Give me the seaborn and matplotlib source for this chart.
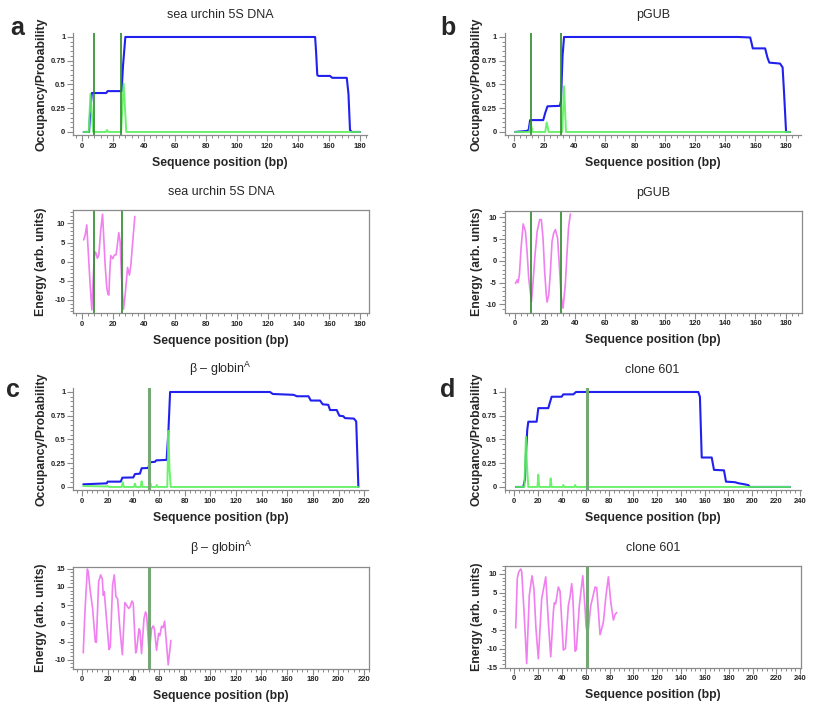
import matplotlib
matplotlib.use('Agg')
import matplotlib.pyplot as plt
import seaborn as sns
from matplotlib.ticker import MultipleLocator, FixedLocator, FixedFormatter

# ---- data ----
# panel a : sea urchin 5S DNA
a_occ_x = [1, 4.5, 5.2, 6.3, 15.6, 16.5, 25.6, 26.5, 28, 150.9, 151.5, 152.3, 153, 160.5, 162, 171.4, 172.5, 173.5, 174.7, 180]
a_occ_y = [0, 0, 0.2, 0.41, 0.41, 0.43, 0.43, 0.7, 1.0, 1.0, 0.85, 0.6, 0.59, 0.59, 0.57, 0.57, 0.4, 0.02, 0, 0]
a_prob_x = [1, 4.3, 5.4, 6.3, 7.1, 15.5, 16.1, 16.9, 25.3, 26.2, 26.9, 27.6, 28.6, 180]
a_prob_y = [0, 0, 0.4, 0.2, 0, 0, 0.02, 0, 0, 0.3, 0.51, 0.3, 0, 0]
a_eng_x = [1, 2, 3, 4.1, 5.2, 6.3, 6.9, 7.6, 8.2, 9, 9.9, 10.8, 12, 13.2, 13.8, 14.9, 16, 16.8, 17.3, 17.9, 18.5,
           19.8, 20.8, 22, 23, 23.7, 24.6, 25.5, 26.8, 28, 29.4, 30.6, 31.5, 32.5, 34.1]
a_eng_y = [5.7, 7.0, 9.6, 1.7, -6.1, -12.6, -7, -0.9, 2.6, 2.2, 0.9, 1.7, 8, 12.4, 7.8, -0.9, -7, -8.6, -8.7, -2.6, 1.6,
           0.8, 1.7, 1.8, 5, 7.6, 5.2, -4, -12.4, -8, -1.5, -3.5, -1, 4, 11.8]
a_sites = [8, 25.5]

# panel b : pGUB
b_occ_x = [0.5, 8, 9.5, 10.5, 19.2, 20.5, 22, 30.3, 31, 32, 33, 148.6, 156.5, 157.5, 158.2, 166.4, 168, 169.2,
           176.3, 178, 179, 180.3, 183]
b_occ_y = [0, 0.01, 0.02, 0.125, 0.125, 0.2, 0.27, 0.275, 0.33, 0.8, 1.0, 1.0, 0.995, 0.93, 0.88, 0.88, 0.78, 0.73,
           0.72, 0.68, 0.4, 0, 0]
b_prob_x = [0.5, 10, 10.9, 12, 20.5, 21.5, 22.8, 31.8, 33, 34.3, 183]
b_prob_y = [0, 0, 0.1, 0, 0, 0.1, 0, 0, 0.48, 0, 0]
b_eng_x = [0.5, 1.6, 2.2, 3.1, 4.2, 5.6, 7.1, 8.2, 9.3, 11.1, 12.2, 13.3, 14.9, 16.6, 17.7, 18.8, 19.9, 21, 21.5,
           22.6, 23.7, 24.8, 25.9, 27, 28.5, 29.9, 30.8, 32.1, 33.6, 34.8, 35.8, 37]
b_eng_y = [-5.2, -4.4, -5, -3.2, 2.9, 8.5, 6.8, 2.1, -4.0, -9.4, -4.8, 0.6, 6.8, 9.5, 9.5, 5.2, -2.5, -7.9, -9.5,
           -7.9, -2.5, 4.5, 6.4, 7.2, 5.2, -2.5, -7.9, -10.9, -5.5, 2.1, 7.8, 10.8]
b_sites = [11, 31]

# panel c : beta-globin A
c_occ_x = [1, 19.3, 20, 30.2, 31.5, 40, 41.3, 45.2, 46.5, 51.7, 53, 57, 57.8, 66, 67.4, 68.7, 146.6, 148.8, 165,
           167.6, 176.6, 178.4, 185.6, 187.7, 192, 193.4, 198.6, 200.7, 203.8, 205, 212, 213.8, 215.5]
c_occ_y = [0.028, 0.038, 0.056, 0.056, 0.098, 0.1, 0.136, 0.14, 0.197, 0.2, 0.26, 0.265, 0.28, 0.285, 0.59, 1.0,
           1.0, 0.979, 0.97, 0.955, 0.955, 0.91, 0.91, 0.87, 0.865, 0.81, 0.81, 0.75, 0.745, 0.725, 0.72, 0.69, 0]
c_prob_x = [1, 19, 20, 21, 31, 31.8, 32.6, 40.5, 41.3, 42, 45.8, 46.5, 47.3, 52.5, 53.3, 54, 57.6, 58.3, 59,
            66.5, 67.4, 68.2, 69.2, 215.5]
c_prob_y = [0.01, 0.005, 0.01, 0, 0, 0.05, 0, 0, 0.035, 0, 0, 0.06, 0, 0, 0.04, 0, 0, 0.02, 0,
            0, 0.59, 0.2, 0, 0]
c_eng_x = [1, 2.3, 4.2, 5, 6.2, 8.3, 10.4, 11.2, 13, 14.6, 15.9, 16.6, 17.4, 18.7, 21.1, 22.1, 23.9, 25.2, 26.5,
           27.8, 29.6, 31.5, 33.5, 34.8, 36.4, 37.4, 39, 40, 41.9, 42.6, 44.5, 45.3, 46.5, 48.4, 49.6, 50.4, 52.5,
           54.3, 55.6, 56.5, 58.2, 59.8, 60.8, 62.1, 63.3, 64.5, 67.3, 69.4]
c_eng_y = [-8.1, 3.1, 14.9, 14, 9.6, 4.1, -5.1, -5.2, 11.4, 13.3, 12.1, 7.7, 8.7, 3.1, -7.2, -6.5, 10.5, 13.3, 7.3,
           6.8, -1.5, -8.6, 5.7, 5.0, 4.1, 4.4, 6.1, 5.5, -8.1, -7.4, -1.5, -2, -8.3, 1.3, 3.1, 2.4, -8.3,
           -1.5, -0.7, -1.5, -7.4, -2.8, -3.4, -0.8, -1.2, 0.6, -11.4, -4.7]
c_sites = [52.3]

# panel d : clone 601
d_occ_x = [1.4, 7.6, 9, 9.8, 10.9, 11.8, 18.8, 20.2, 28.6, 29.5, 31.4, 39.8, 41.2, 49.6, 51.9, 154.6, 156, 157.5,
           165.9, 167.8, 176.2, 177.9, 185.5, 188, 192.6, 196.6, 198, 231.7]
d_occ_y = [0, 0, 0.08, 0.34, 0.6, 0.687, 0.687, 0.83, 0.83, 0.87, 0.95, 0.95, 0.975, 0.975, 1.0, 1.0, 0.95, 0.31,
           0.31, 0.18, 0.175, 0.056, 0.05, 0.04, 0.03, 0.02, 0, 0]
d_prob_x = [1.4, 8.5, 9.8, 10.6, 11.8, 19.5, 20.2, 21, 30, 30.6, 31.3, 40.6, 41.2, 42, 50.5, 51.1, 52, 231.7]
d_prob_y = [0, 0, 0.53, 0.25, 0, 0, 0.13, 0, 0, 0.09, 0, 0, 0.02, 0, 0, 0.02, 0, 0]
d_eng_x = [1.2, 2.5, 3.7, 5.4, 6.2, 8.2, 10.4, 12.6, 14.9, 16.5, 18.2, 20.2, 23, 26.4, 28.6, 30.6, 32.8, 33.6,
           34.7, 37, 38.4, 41.2, 42.9, 45.4, 46.8, 48.2, 49.1, 51, 52.1, 54.6, 57.5, 59.4, 60.2, 61.6, 64.2, 65.3,
           67.8, 69.2, 72, 73.4, 74.8, 77, 79, 81, 83.2, 84.6, 86]
d_eng_y = [-4.4, 8.8, 10.5, 11.3, 10.7, -0.1, -13.9, 4.3, 9.5, 6, -4.6, -12.6, 3.4, 9.2, -2.8, -12.1, -0.1, 2.3,
           2.0, 6.5, 5.4, -10.3, -9.9, 1.6, 3.9, 7.4, 4.3, -10.6, -10.2, 1.6, 9.5, 0.8, -3.7, -6.5, 1.6, 3.0,
           6.5, 6.3, -6.2, -4.6, -2.8, 4.3, 9.2, 2.5, -2.3, -0.8, -0.3]
d_sites = [61]

titles = ['sea urchin 5S DNA', 'pGUB', 'β – globin$^{\\mathrm{A}}$', 'clone 601']
panel_letters = ['a', 'b', 'c', 'd']

# ---- style ----
sns.set_style('ticks')
plt.rcParams['font.family'] = ['Liberation Sans', 'DejaVu Sans']
plt.rcParams['mathtext.fontset'] = 'custom'
plt.rcParams['mathtext.rm'] = 'Liberation Sans'
plt.rcParams['axes.unicode_minus'] = False

BLUE = '#2121ee'
GREEN = '#5cf05c'
PINK = '#f07ff0'
GRAY = '#8a8a8a'

W, H = 823, 720
fig = plt.figure(figsize=(W / 100, H / 100), dpi=100)


def frame(left, top, w, h):
    return [left / W, 1 - (top + h) / H, w / W, h / H]


def style_axes(ax, xlim, ylim, box):
    ax.set_xlim(*xlim)
    ax.set_ylim(*ylim)
    for side in ['left', 'bottom', 'top', 'right']:
        ax.spines[side].set_color(GRAY)
        ax.spines[side].set_linewidth(0.9)
    if not box:
        ax.spines['top'].set_visible(False)
        ax.spines['right'].set_visible(False)
    ax.tick_params(which='major', direction='out', length=4, width=0.8, color=GRAY,
                   labelsize=5.5, pad=1.5)
    ax.tick_params(which='minor', direction='out', length=2.2, width=0.7, color=GRAY)
    ax.xaxis.set_major_locator(MultipleLocator(20))
    ax.xaxis.set_minor_locator(MultipleLocator(4))
    ax.set_xlabel('Sequence position (bp)', fontsize=8.8, fontweight='bold', va='center')
    ax.xaxis.set_label_coords(0.5, -0.27)


occ_frames = [frame(73, 33, 294, 102), frame(504.5, 33, 296.5, 102),
              frame(73, 388, 295, 102), frame(504.5, 388, 296, 102)]
eng_frames = [frame(73, 210, 296, 103), frame(504.5, 210.5, 297, 102),
              frame(73, 566.5, 296, 102), frame(505, 566, 296, 101.7)]
occ_xlims = [(-5.9, 184.5), (-6.5, 190.2), (-7, 223), (-8.2, 240.5)]
eng_xlims = [(-5.9, 185.6), (-6.8, 190.6), (-7, 224), (-7.8, 240.7)]
eng_ylims = [(-13.4, 13.5), (-11.9, 11.6), (-12.4, 15.6), (-15, 12.1)]
ylab_x = [-0.107, -0.094, -0.107, -0.094]
letter_pos = [(17, 28), (448, 28), (13, 390), (448, 390)]
site_style = [dict(color='#2a8a2a', lw=1.2), dict(color='#2a8a2a', lw=1.2),
              dict(color='#74a874', lw=2.2), dict(color='#74a874', lw=2.2)]

occ_data = [(a_occ_x, a_occ_y, a_prob_x, a_prob_y), (b_occ_x, b_occ_y, b_prob_x, b_prob_y),
            (c_occ_x, c_occ_y, c_prob_x, c_prob_y), (d_occ_x, d_occ_y, d_prob_x, d_prob_y)]
eng_data = [(a_eng_x, a_eng_y), (b_eng_x, b_eng_y), (c_eng_x, c_eng_y), (d_eng_x, d_eng_y)]
sites = [a_sites, b_sites, c_sites, d_sites]

for i in range(4):
    # occupancy / probability
    ax = fig.add_axes(occ_frames[i])
    ox, oy, px, py = occ_data[i]
    sns.lineplot(x=ox, y=oy, ax=ax, color=BLUE, lw=1.5, estimator=None, sort=False)
    sns.lineplot(x=px, y=py, ax=ax, color=GREEN, lw=1.4, alpha=0.9, estimator=None, sort=False)
    for s in sites[i]:
        ax.axvline(s, **site_style[i])
    style_axes(ax, occ_xlims[i], (-0.032, 1.042), box=False)
    ax.yaxis.set_major_locator(FixedLocator([0, 0.25, 0.5, 0.75, 1]))
    ax.yaxis.set_major_formatter(FixedFormatter(['0', '0.25', '0.5', '0.75', '1']))
    ax.yaxis.set_minor_locator(MultipleLocator(0.05))
    ax.set_ylabel('Occupancy/Probability', fontsize=8.8, fontweight='bold', va='center')
    ax.yaxis.set_label_coords(ylab_x[i], 0.5)
    ax.set_title(titles[i], fontsize=9, pad=10.5)
    for lab in ax.get_xticklabels() + ax.get_yticklabels():
        lab.set_fontweight('bold')

    # energy
    ax = fig.add_axes(eng_frames[i])
    ex, ey = eng_data[i]
    sns.lineplot(x=ex, y=ey, ax=ax, color=PINK, lw=1.2, estimator=None, sort=False)
    for s in sites[i]:
        ax.axvline(s, **site_style[i])
    style_axes(ax, eng_xlims[i], eng_ylims[i], box=True)
    ax.yaxis.set_major_locator(MultipleLocator(5))
    ax.yaxis.set_minor_locator(MultipleLocator(1))
    ax.set_ylabel('Energy (arb. units)', fontsize=8.8, fontweight='bold', va='center')
    ax.yaxis.set_label_coords(ylab_x[i], 0.5)
    ax.set_title(titles[i], fontsize=9, pad=10.5)
    for lab in ax.get_xticklabels() + ax.get_yticklabels():
        lab.set_fontweight('bold')

    lx, ly = letter_pos[i]
    fig.text(lx / W, 1 - ly / H, panel_letters[i], fontsize=18, fontweight='bold',
             ha='center', va='center')

fig.savefig('out.png', dpi=100)
